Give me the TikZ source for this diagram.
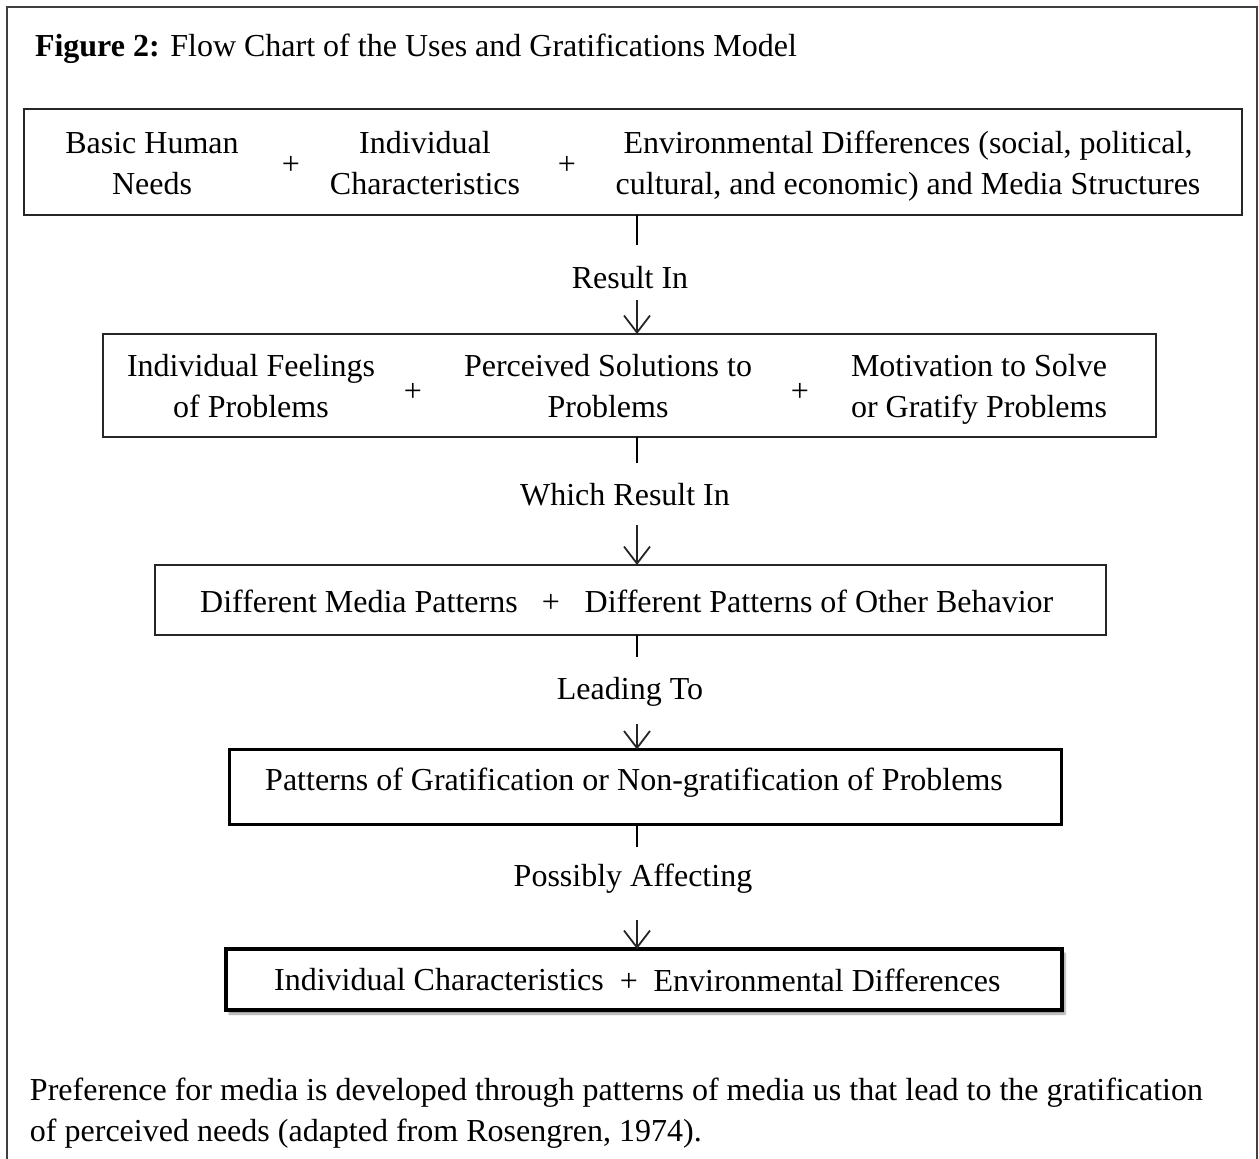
\documentclass[tikz,border=0pt]{standalone}
\usepackage{fontspec}
\setmainfont{Liberation Serif}
\usetikzlibrary{arrows.meta,shadows.blur}
\begin{document}
\begin{tikzpicture}[x=1pt,y=-1pt,
  every node/.style={font=\fontsize{32}{41}\selectfont, inner sep=0pt, outer sep=0pt},
  txt/.style={align=center},
  box/.style={draw=black!85, line width=2.2pt, rectangle, fill=white},
  boxthick/.style={draw=black, line width=3pt, rectangle, fill=white},
  boxheavy/.style={draw=black, line width=4.5pt, rectangle, fill=white,
    blur shadow={shadow xshift=3pt, shadow yshift=-4pt, shadow blur steps=6, shadow opacity=40}},
  conn/.style={line width=2pt, black},
  arr/.style={line width=1.8pt, black!85, -{Straight Barb[length=17pt,width=26pt]}},
  frame/.style={line width=2pt, black!75}
]
\useasboundingbox (0,0) rectangle (1259,1159);
\draw[frame] (7,1159) -- (7,7) -- (1257,7) -- (1257,1159);

\node[anchor=base west] (title) at (35,56) {\textbf{Figure 2:} Flow Chart of the Uses and Gratifications Model};

% box 1
\node[box, minimum width=1218pt, minimum height=106pt] (b1) at (633,162) {};
\node[txt] (b1a) at (152,166) {Basic Human\strut\\Needs\strut};
\node (b1p1) at (291,165) {+};
\node[txt] (b1b) at (425,166) {Individual\strut\\Characteristics\strut};
\node (b1p2) at (567,165) {+};
\node[txt] (b1c) at (908,166) {Environmental Differences (social, political,\strut\\cultural, and economic) and Media Structures\strut};

% box 2
\node[box, minimum width=1053pt, minimum height=103pt] (b2) at (629.5,385.5) {};
\node[txt] (b2a) at (251,389) {Individual Feelings\strut\\of Problems\strut};
\node (b2p1) at (413,392) {+};
\node[txt] (b2b) at (608,389) {Perceived Solutions to\strut\\Problems\strut};
\node (b2p2) at (800,392) {+};
\node[txt] (b2c) at (979,389) {Motivation to Solve\strut\\or Gratify Problems\strut};

% box 3
\node[box, minimum width=951pt, minimum height=70pt] (b3) at (630.5,600) {};
\node (b3a) at (359,601) {Different Media Patterns};
\node (b3p) at (551,603) {+};
\node (b3b) at (819,601) {Different Patterns of Other Behavior};

% box 4
\node[boxthick, minimum width=832pt, minimum height=75pt] (b4) at (645,787) {};
\node (b4a) at (634,783) {Patterns of Gratification or Non-gratification of Problems};

% box 5
\node[boxheavy, minimum width=836pt, minimum height=61pt] (b5) at (644,979.5) {};
\node (b5a) at (439,980) {Individual Characteristics};
\node (b5p) at (629,982) {+};
\node (b5b) at (827,980) {Environmental Differences};

% connector labels
\node (l1) at (630,278) {Result In};
\node (l2) at (625,495) {Which Result In};
\node (l3) at (630,692) {Leading To};
\node (l4) at (633,879) {Possibly Affecting};

% connectors
\coordinate (c1a) at (637,245);
\coordinate (c1b) at (637,300);
\draw[conn] (b1.south -| c1a) -- (c1a);
\draw[arr] (c1b) -- (c1b |- b2.north);

\coordinate (c2a) at (637,463);
\coordinate (c2b) at (637,525);
\draw[conn] (b2.south -| c2a) -- (c2a);
\draw[arr] (c2b) -- (c2b |- b3.north);

\coordinate (c3a) at (637,657);
\coordinate (c3b) at (637,724);
\draw[conn] (b3.south -| c3a) -- (c3a);
\draw[arr] (c3b) -- (c3b |- b4.north);

\coordinate (c4a) at (637,847);
\coordinate (c4b) at (637,920);
\draw[conn] (b4.south -| c4a) -- (c4a);
\draw[arr] (c4b) -- (c4b |- b5.north);

% caption
\node[anchor=base west] (cap1) at (30,1100) {Preference for media is developed through patterns of media us that lead to the gratification};
\node[anchor=base west] (cap2) at (30,1141) {of perceived needs (adapted from Rosengren, 1974).};
\end{tikzpicture}
\end{document}
